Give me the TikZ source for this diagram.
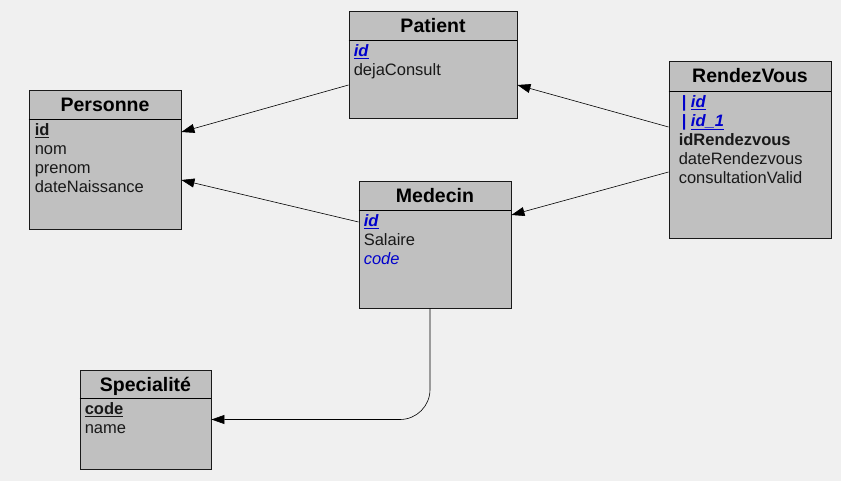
\documentclass[tikz,border=0pt]{standalone}
\usepackage{fontspec}
\setmainfont{Liberation Sans}
\usepackage{tikz}
\usetikzlibrary{positioning,calc,arrows.meta}
\usepackage{xcolor}

\definecolor{bggray}{HTML}{F0F0F0}
\definecolor{boxgray}{HTML}{C0C0C0}
\definecolor{keyblue}{HTML}{0000CC}

\newcommand{\pk}[1]{\underline{\textbf{#1}}}
\newcommand{\fk}[1]{\textcolor{keyblue}{\underline{\textbf{\textit{#1}}}}}
\newcommand{\topline}{\rule{0pt}{13pt}}

\begin{document}
\begin{tikzpicture}[
    x=1pt, y=-1pt,
    entity/.style={rectangle, draw=black!90, fill=boxgray, line width=0.9pt, inner sep=0pt},
    title/.style={anchor=base, inner sep=0pt, font=\fontsize{19.5}{22}\selectfont\bfseries},
    attrs/.style={anchor=north west, inner sep=0pt, align=left, font=\fontsize{16.5}{19}\selectfont, text=black!90},
    arr/.style={-{Triangle[length=13pt,width=9pt]}, line width=0.6pt}
]
    % background and frame
    \fill[bggray] (0,0) rectangle (841,481);
    \useasboundingbox (0,0) rectangle (841,481);

    % Patient
    \node[entity, minimum width=168pt, minimum height=107pt] (patient) at (433,64.5) {};
    \node[title] (patient-t) at ([yshift=-21.5pt]patient.north) {Patient};
    \draw[line width=0.9pt] ([yshift=-30pt]patient.north west) -- ([yshift=-30pt]patient.north east);
    \node[attrs] (patient-a) at ([xshift=5pt, yshift=-32.5pt]patient.north west) {
        \topline\fk{id}\\
        dejaConsult
    };

    % Personne
    \node[entity, minimum width=152pt, minimum height=139pt] (personne) at (105,159.5) {};
    \node[title] (personne-t) at ([yshift=-21.5pt]personne.north) {Personne};
    \draw[line width=0.9pt] ([yshift=-30pt]personne.north west) -- ([yshift=-30pt]personne.north east);
    \node[attrs] (personne-a) at ([xshift=6pt, yshift=-32.5pt]personne.north west) {
        \topline\pk{id}\\
        nom\\
        prenom\\
        dateNaissance
    };

    % RendezVous
    \node[entity, minimum width=162pt, minimum height=177pt] (rdv) at (750,149.5) {};
    \node[title] (rdv-t) at ([yshift=-21.5pt]rdv.north) {RendezVous};
    \draw[line width=0.9pt] ([yshift=-31pt]rdv.north west) -- ([yshift=-31pt]rdv.north east);
    \node[attrs] (rdv-a) at ([xshift=10pt, yshift=-33.5pt]rdv.north west) {
        \topline\hspace{3pt}\textcolor{keyblue}{\textbf{|}} \fk{id}\\
        \hspace{3pt}\textcolor{keyblue}{\textbf{|}} \fk{id\_1}\\
        \textbf{idRendezvous}\\
        dateRendezvous\\
        consultationValid
    };

    % Medecin
    \node[entity, minimum width=152pt, minimum height=127pt] (medecin) at (435,244.5) {};
    \node[title] (medecin-t) at ([yshift=-21.5pt]medecin.north) {Medecin};
    \draw[line width=0.9pt] ([yshift=-30pt]medecin.north west) -- ([yshift=-30pt]medecin.north east);
    \node[attrs] (medecin-a) at ([xshift=5pt, yshift=-32.5pt]medecin.north west) {
        \topline\fk{id}\\
        Salaire\\
        \textcolor{keyblue}{\textit{code}}
    };

    % Specialite
    \node[entity, minimum width=131pt, minimum height=99pt] (specialite) at (145.5,419.5) {};
    \node[title] (specialite-t) at ([yshift=-21.5pt]specialite.north) {Specialité};
    \draw[line width=0.9pt] ([yshift=-29pt]specialite.north west) -- ([yshift=-29pt]specialite.north east);
    \node[attrs] (specialite-a) at ([xshift=5pt, yshift=-31.5pt]specialite.north west) {
        \topline\pk{code}\\
        name
    };

    % links
    \draw[arr] ([yshift=-20.5pt]patient.west) -- ([yshift=27.5pt]personne.east);
    \draw[arr] ([yshift=22.5pt]medecin.west) -- ([yshift=-20.5pt]personne.east);
    \draw[arr] ([yshift=22.5pt]rdv.west) -- ([yshift=-20.5pt]patient.east);
    \draw[arr] ([yshift=-22.5pt]rdv.west) -- ([yshift=29.5pt]medecin.east);
    \draw[arr, rounded corners=30pt] ([xshift=-5pt]medecin.south) |- (specialite.east);
\end{tikzpicture}
\end{document}
